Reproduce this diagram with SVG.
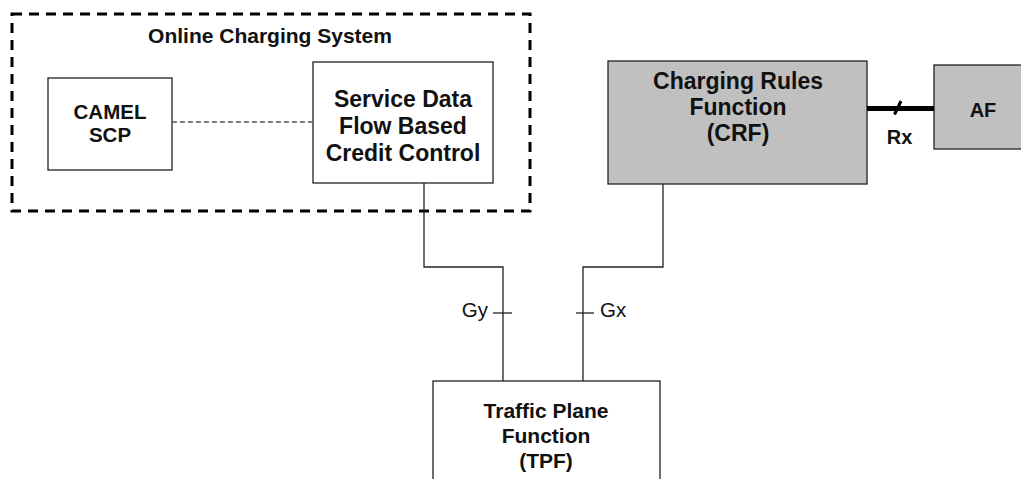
<svg xmlns="http://www.w3.org/2000/svg" width="1021" height="479" viewBox="0 0 1021 479">
<style>
.box{fill:#fff;stroke:#222;stroke-width:1.3}
.grey{fill:#c0c0c0;stroke:#222;stroke-width:1.3}
.t{font-family:"Liberation Sans",Arial,sans-serif;font-weight:bold;fill:#111;text-anchor:middle}
.lbl{font-family:"Liberation Sans",Arial,sans-serif;fill:#111}
.conn{fill:none;stroke:#222;stroke-width:1.3}
</style>
<rect width="1021" height="479" fill="#fff"/>
<g id="ocs">
<rect x="12" y="14" width="518" height="197" fill="none" stroke="#000" stroke-width="3" stroke-dasharray="10,7"/>
<text class="t" x="270" y="43" font-size="21">Online Charging System</text>
</g>
<g id="camel">
<rect class="box" x="48" y="78" width="124" height="92"/>
<text class="t" font-size="20.5"><tspan x="110" y="119">CAMEL</tspan><tspan x="110" y="142">SCP</tspan></text>
</g>
<g id="sdf">
<rect class="box" x="313" y="62" width="180" height="121"/>
<text class="t" font-size="23"><tspan x="403" y="107">Service Data</tspan><tspan x="403" y="134">Flow Based</tspan><tspan x="403" y="161">Credit Control</tspan></text>
</g>
<g id="crf">
<rect class="grey" x="608" y="61" width="259" height="123"/>
<text class="t" font-size="23"><tspan x="738" y="89">Charging Rules</tspan><tspan x="738" y="115">Function</tspan><tspan x="738" y="141">(CRF)</tspan></text>
</g>
<g id="af">
<rect class="grey" x="934" y="65" width="98" height="84"/>
<text class="t" x="983" y="117" font-size="20">AF</text>
</g>
<g id="tpf">
<rect class="box" x="433" y="381" width="227" height="110"/>
<text class="t" font-size="21"><tspan x="546" y="418">Traffic Plane</tspan><tspan x="546" y="443">Function</tspan><tspan x="546" y="468">(TPF)</tspan></text>
</g>
<g id="connectors">
<line x1="172" y1="122" x2="313" y2="122" stroke="#555" stroke-width="1.3" stroke-dasharray="5,3"/>
<path class="conn" d="M424 183 V267 H503 V381"/>
<path class="conn" d="M663 184 V267 H583 V381"/>
<line class="conn" x1="493" y1="313" x2="512" y2="313"/>
<line class="conn" x1="576" y1="313" x2="594" y2="313"/>
<text class="lbl" x="488" y="317" font-size="20.5" text-anchor="end">Gy</text>
<text class="lbl" x="600" y="317" font-size="20.5">Gx</text>
<line x1="867" y1="108.5" x2="934" y2="108.5" stroke="#000" stroke-width="5"/>
<line x1="894.5" y1="114.5" x2="901" y2="101" stroke="#000" stroke-width="3"/>
<text class="t" x="899.5" y="144" font-size="20">Rx</text>
</g>
</svg>
